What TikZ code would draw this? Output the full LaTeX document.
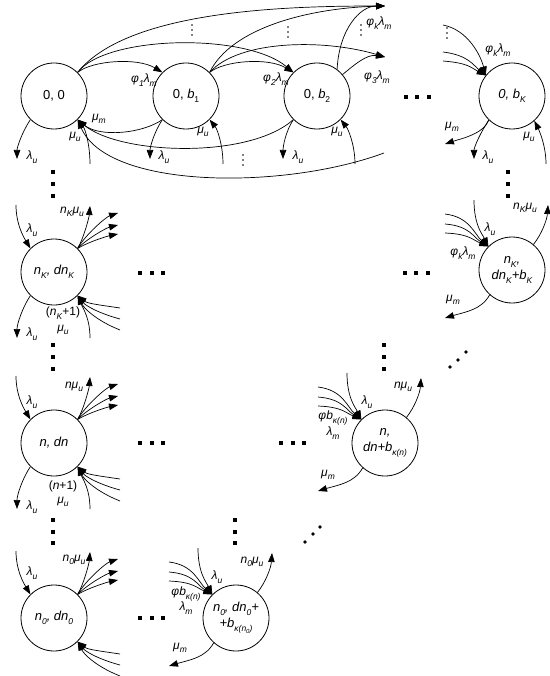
\documentclass[tikz,border=0pt]{standalone}
\usepackage{fontspec}
\setmainfont{Liberation Sans}
\usetikzlibrary{arrows.meta}
\newcommand\sbs[1]{\raisebox{-0.3em}{\fontsize{8.5}{9}\selectfont #1}}
\newcommand\ssbs[1]{\raisebox{-0.2em}{\fontsize{6}{6}\selectfont #1}}
\tikzset{
 st/.style={circle,draw,line width=0.8pt,minimum size=66pt,inner sep=0pt,align=center,font=\fontsize{13}{16}\selectfont},
 sti/.style={st,font=\fontsize{13}{16}\selectfont\itshape},
 lab/.style={inner sep=0pt,font=\fontsize{12}{14}\selectfont\itshape},
 arr/.style={line width=0.7pt,-{Triangle[length=9pt,width=6.5pt]}},
}
\newcommand\bsq[2]{\fill (#1-1.8,#2-1.8) rectangle (#1+1.8,#2+1.8);}
\newcommand\bdot[2]{\fill (#1,#2) circle (1.8);}
\newcommand\vdt[2]{\fill (#1,#2-5) circle (0.8); \fill (#1,#2) circle (0.8); \fill (#1,#2+5) circle (0.8);}
\newcommand\leftgroup[1]{%
 \coordinate (#1-pa) at ([shift={(-38,-67)}]#1.center);
 \coordinate (#1-pb) at ([shift={(36,-66)}]#1.center);
 \coordinate (#1-pc) at ([shift={(64,-59)}]#1.center);
 \coordinate (#1-pd) at ([shift={(64,-47)}]#1.center);
 \coordinate (#1-pe) at ([shift={(64,-38)}]#1.center);
 \coordinate (#1-pf) at ([shift={(66,36)}]#1.center);
 \coordinate (#1-pg) at ([shift={(66,47)}]#1.center);
 \coordinate (#1-ph) at ([shift={(66,58)}]#1.center);
 \draw[arr] (#1-pa) .. controls +(0,20) and +(-6,-10) .. (#1.135);
 \draw[arr] (#1.45) .. controls +(6,-10) and +(-1,12) .. (#1-pb);
 \draw[arr] (#1.45) .. controls +(8,-14) and +(-12,4) .. (#1-pc);
 \draw[arr] (#1.45) .. controls +(10,-10) and +(-12,3) .. (#1-pd);
 \draw[arr] (#1.45) .. controls +(12,-7) and +(-10,2) .. (#1-pe);
 \draw[arr] (#1-pf) .. controls +(-20,-3) and +(10,8) .. (#1.315);
 \draw[arr] (#1-pg) .. controls +(-22,-6) and +(8,10) .. (#1.315);
 \draw[arr] (#1-ph) .. controls +(-25,-10) and +(6,12) .. (#1.315);
}
\newcommand\leftbottom[1]{%
 \coordinate (#1-pi) at ([shift={(-37,66)}]#1.center);
 \coordinate (#1-pj) at ([shift={(36,66)}]#1.center);
 \draw[arr] (#1.225) .. controls +(-8,12) and +(0,-14) .. (#1-pi);
 \draw[arr] (#1-pj) .. controls +(0,-20) and +(5,12) .. (#1.315);
}
\newcommand\rightgroup[1]{%
 \coordinate (#1-qa) at ([shift={(-38,-70)}]#1.center);
 \coordinate (#1-qb) at ([shift={(-67,-56)}]#1.center);
 \coordinate (#1-qc) at ([shift={(-67,-46)}]#1.center);
 \coordinate (#1-qd) at ([shift={(-67,-37)}]#1.center);
 \coordinate (#1-qe) at ([shift={(36,-65)}]#1.center);
 \coordinate (#1-qf) at ([shift={(-67,48)}]#1.center);
 \draw[arr] (#1-qa) .. controls +(0,25) and +(-6,-12) .. (#1.135);
 \draw[arr] (#1-qb) .. controls +(25,3) and +(-14,-12) .. (#1.135);
 \draw[arr] (#1-qc) .. controls +(25,2) and +(-15,-9) .. (#1.135);
 \draw[arr] (#1-qd) .. controls +(25,1) and +(-15,-6) .. (#1.135);
 \draw[arr] (#1.50) .. controls +(8,-10) and +(-1,15) .. (#1-qe);
 \draw[arr] (#1.228) .. controls +(-8,15) and +(20,-6) .. (#1-qf);
}
\begin{document}
\begin{tikzpicture}[x=1pt,y=-1pt]
\useasboundingbox (0,0) rectangle (549,676);
% ---------- nodes
\node[st] (A00) at (54,96) {0, 0};
\node[st] (A01) at (186,96) {0, \textit{b}\sbs{1}};
\node[st] (A02) at (317,96) {0, \textit{b}\sbs{2}};
\node[sti] (A0K) at (512,96) {0, b\sbs{K}};
\node[sti] (BK) at (54,272) {n\sbs{K}, dn\sbs{K}};
\node[sti] (BKK) at (512,270) {n\sbs{K},\\ dn\sbs{K}+b\sbs{K}};
\node[sti] (Cn) at (54,443) {n, dn};
\node[sti] (Cnb) at (385,443) {n,\\ dn+b\sbs{κ(n)}};
\node[sti] (D0) at (54,618) {n\sbs{0}, dn\sbs{0}};
\node[sti] (D0b) at (236,618) {n\sbs{0}, dn\sbs{0}+\\ +b\sbs{κ(n\ssbs{0})}};
% ---------- row 1 coordinates
\coordinate (F1) at (385,6);
\coordinate (F2) at (385,57);
\coordinate (K1) at (443,25);
\coordinate (K2) at (443,52);
\coordinate (K3) at (443,61);
\coordinate (M0K) at (445,144);
\coordinate (L00) at (17,159);
\coordinate (L01) at (150,159);
\coordinate (L02) at (283,159);
\coordinate (L0K) at (474,159);
\coordinate (U00) at (90,164);
\coordinate (U01) at (223,164);
\coordinate (U02) at (355,164);
\coordinate (U0K) at (546,164);
\coordinate (R0) at (384,153);
% ---------- row 1 edges
\draw[arr] (A00.45) .. controls +(15,-12) and +(-25,-15) .. (A01.135);
\draw[arr] (A00.45) .. controls +(28,-37) and +(-48,-40) .. (A02.135);
\draw[arr] (A00.45) .. controls +(50,-62) and +(-100,0) .. (F1);
\draw[arr] (A01.45) .. controls +(15,-12) and +(-25,-15) .. (A02.135);
\draw[arr] (A01.45) .. controls +(30,-33) and +(-60,-18) .. (F2);
\draw[arr] (A01.45) .. controls +(22,-45) and +(-75,2) .. (F1);
\draw[arr] (A02.53) .. controls +(2,-40) and +(-25,0) .. (F1);
\draw[arr] (A02.40) .. controls +(12,-10) and +(-18,-3) .. (F2);
\draw[arr] (K1) .. controls +(25,5) and +(-5,-20) .. (A0K.142);
\draw[arr] (K2) .. controls +(25,3) and +(-12,-10) .. (A0K.142);
\draw[arr] (K3) .. controls +(25,2) and +(-15,-8) .. (A0K.142);
\draw[arr] (A0K.226) .. controls +(-5,14) and +(15,-5) .. (M0K);
\draw[arr] (A0K.226) .. controls +(-8,12) and +(0,-12) .. (L0K);
\draw[arr] (U0K) .. controls +(0,-18) and +(5,10) .. (A0K.312);
\draw[arr] (A00.225) .. controls +(-8,12) and +(0,-12) .. (L00);
\draw[arr] (A01.225) .. controls +(-8,12) and +(0,-12) .. (L01);
\draw[arr] (A02.225) .. controls +(-8,12) and +(0,-12) .. (L02);
\draw[arr] (U00) .. controls +(0,-18) and +(8,10) .. (A00.315);
\draw[arr] (U01) .. controls +(0,-18) and +(8,10) .. (A01.315);
\draw[arr] (U02) .. controls +(0,-18) and +(8,10) .. (A02.315);
\draw[arr] (A01.225) .. controls +(-20,14) and +(22,18) .. (A00.315);
\draw[arr] (A02.225) .. controls +(-45,40) and +(42,35) .. (A00.315);
\draw[arr] (R0) .. controls +(-100,37) and +(30,70) .. (A00.315);
% ---------- row 1 labels
\node[lab] (t1) at (144,80) {φ\sbs{1}λ\sbs{m}};
\node[lab] (t2) at (276,79) {φ\sbs{2}λ\sbs{m}};
\node[lab] (t3) at (377,77) {φ\sbs{3}λ\sbs{m}};
\node[lab] (t4) at (379,23) {φ\sbs{k}λ\sbs{m}};
\node[lab] (t5) at (498,50) {φ\sbs{k}λ\sbs{m}};
\node[lab] (t6) at (99,119) {μ\sbs{m}};
\node[lab] (t7) at (75,137) {μ\sbs{u}};
\node[lab] (t8) at (32,157) {λ\sbs{u}};
\node[lab] (t9) at (164,157) {λ\sbs{u}};
\node[lab] (t10) at (203,132) {μ\sbs{u}};
\node[lab] (t11) at (298,157) {λ\sbs{u}};
\node[lab] (t12) at (337,132) {μ\sbs{u}};
\node[lab] (t13) at (452,127) {μ\sbs{m}};
\node[lab] (t14) at (488,157) {λ\sbs{u}};
\node[lab] (t15) at (529,137) {μ\sbs{u}};
\vdt{192}{30} \vdt{288}{32} \vdt{361}{30} \vdt{447}{33} \vdt{243}{160}
% ---------- left column
\leftgroup{BK} \leftbottom{BK}
\leftgroup{Cn} \leftbottom{Cn}
\leftgroup{D0}
\node[lab] (u1) at (32,230) {λ\sbs{u}};
\node[lab] (u2) at (72,212) {n\sbs{K}μ\sbs{u}};
\node[lab] (u3) at (63,313) {\upshape(\itshape n\sbs{K}\upshape+1)};
\node[lab] (u4) at (63,330) {μ\sbs{u}};
\node[lab] (u5) at (32,334) {λ\sbs{u}};
\node[lab] (v1) at (32,402) {λ\sbs{u}};
\node[lab] (v2) at (74,387) {nμ\sbs{u}};
\node[lab] (v3) at (63,486) {\upshape(\itshape n\upshape+1)};
\node[lab] (v4) at (63,502) {μ\sbs{u}};
\node[lab] (v5) at (32,507) {λ\sbs{u}};
\node[lab] (w1) at (32,573) {λ\sbs{u}};
\node[lab] (w2) at (74,560) {n\sbs{0}μ\sbs{u}};
% ---------- right nodes
\rightgroup{BKK}
\rightgroup{Cnb}
\rightgroup{D0b}
\node[lab] (x1) at (490,229) {λ\sbs{u}};
\node[lab] (x2) at (463,253) {φ\sbs{k}λ\sbs{m}};
\node[lab] (x3) at (525,208) {n\sbs{K}μ\sbs{u}};
\node[lab] (x4) at (453,300) {μ\sbs{m}};
\node[lab] (y1) at (367,402) {λ\sbs{u}};
\node[lab] (y2) at (333,418) {φb\sbs{κ(n)}};
\node[lab] (y3) at (333,433) {λ\sbs{m}};
\node[lab] (y4) at (403,387) {nμ\sbs{u}};
\node[lab] (y5) at (328,475) {μ\sbs{m}};
\node[lab] (z1) at (217,577) {λ\sbs{u}};
\node[lab] (z2) at (186,594) {φb\sbs{κ(n)}};
\node[lab] (z3) at (186,608) {λ\sbs{m}};
\node[lab] (z4) at (252,562) {n\sbs{0}μ\sbs{u}};
\node[lab] (z5) at (180,648) {μ\sbs{m}};
% ---------- dots
\foreach \x in {406,417,429} {\bsq{\x}{97}}
\foreach \x in {140,152,163} {\bsq{\x}{273} \bsq{\x}{443} \bsq{\x}{618}}
\foreach \x in {405,416,428} {\bsq{\x}{273}}
\foreach \x in {281,293,304} {\bsq{\x}{443}}
\foreach \y in {172,184,196} {\bsq{53}{\y} \bsq{508}{\y}}
\foreach \y in {345,357,369} {\bsq{53}{\y} \bsq{384}{\y}}
\foreach \y in {520,532,543} {\bsq{53}{\y} \bsq{235}{\y}}
\bdot{450}{367} \bdot{458}{360} \bdot{466}{352}
\bdot{305}{542} \bdot{313}{534} \bdot{320}{527}
\end{tikzpicture}
\end{document}
